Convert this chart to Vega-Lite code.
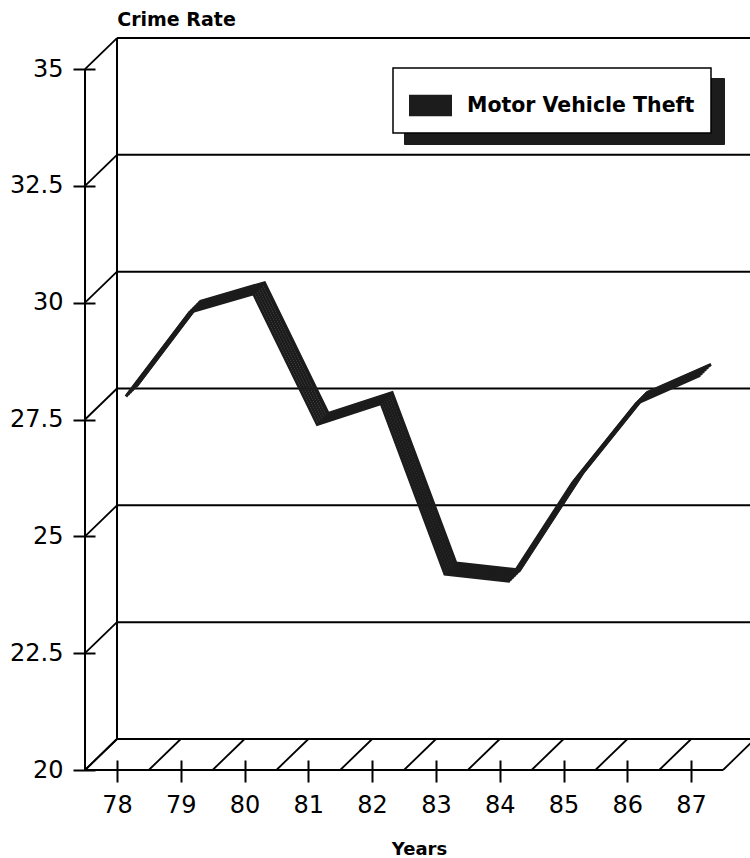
{
  "$schema": "https://vega.github.io/schema/vega-lite/v6.json",
  "width": 665,
  "height": 732,
  "autosize": {"type": "none"},
  "padding": {"left": 85, "top": 38, "right": 0, "bottom": 88},
  "background": "white",
  "config": {
    "view": {"stroke": null},
    "axis": {"grid": false, "domain": false, "tickColor": "black", "tickWidth": 2, "labelColor": "black", "titleColor": "black"}
  },
  "datasets": {
    "theft": [
      {"year": 78, "rate": 27.8},
      {"year": 79, "rate": 29.6},
      {"year": 80, "rate": 30.0},
      {"year": 81, "rate": 27.2},
      {"year": 82, "rate": 27.65},
      {"year": 83, "rate": 24.0},
      {"year": 84, "rate": 23.85},
      {"year": 85, "rate": 25.95},
      {"year": 86, "rate": 27.65},
      {"year": 87, "rate": 28.25}
    ],
    "levels": [
      {"level": 20}, {"level": 22.5}, {"level": 25}, {"level": 27.5},
      {"level": 30}, {"level": 32.5}, {"level": 35}
    ],
    "edges": [
      {"edge": 77.5}, {"edge": 78.5}, {"edge": 79.5}, {"edge": 80.5}, {"edge": 81.5},
      {"edge": 82.5}, {"edge": 83.5}, {"edge": 84.5}, {"edge": 85.5}, {"edge": 86.5}, {"edge": 87.5}
    ]
  },
  "layer": [
    {
      "data": {"name": "levels"},
      "mark": {"type": "rule", "color": "black", "strokeWidth": 2, "xOffset": 32, "x2Offset": 32, "yOffset": -31},
      "encoding": {
        "y": {"field": "level", "type": "quantitative",
          "scale": {"domain": [20, 35.664], "nice": false, "zero": false},
          "axis": {
            "orient": "left", "offset": -10, "tickSize": 22, "labelPadding": 10,
            "values": [20, 22.5, 25, 27.5, 30, 32.5, 35], "labelExpr": "toString(datum.value)",
            "labelFont": "DejaVu Sans", "labelFontSize": 24,
            "title": "Crime Rate", "titleAngle": 0, "titleFont": "DejaVu Sans", "titleFontSize": 19, "titleFontWeight": "bold",
            "titleX": 81, "titleY": -13, "titleAlign": "center", "titleBaseline": "alphabetic"
          }
        },
        "x": {"datum": 77.5, "type": "quantitative",
          "scale": {"domain": [77.5, 87.923], "nice": false, "zero": false},
          "axis": {
            "orient": "bottom", "offset": -10, "tickSize": 22, "labelPadding": 11,
            "values": [78, 79, 80, 81, 82, 83, 84, 85, 86, 87], "labelExpr": "toString(datum.value)",
            "labelFont": "DejaVu Sans", "labelFontSize": 24,
            "title": "Years", "titleFont": "DejaVu Sans", "titleFontSize": 18, "titleFontWeight": "bold",
            "titleX": 334, "titleY": 94, "titleAlign": "center", "titleBaseline": "alphabetic"
          }
        },
        "x2": {"datum": 87.923}
      }
    },
    {
      "data": {"name": "levels"},
      "mark": {"type": "rule", "color": "black", "strokeWidth": 1.8, "x2Offset": 32, "y2Offset": -31},
      "encoding": {
        "x": {"datum": 77.5, "type": "quantitative"},
        "x2": {"datum": 77.5},
        "y": {"field": "level", "type": "quantitative"},
        "y2": {"field": "level"}
      }
    },
    {
      "data": {"name": "edges"},
      "mark": {"type": "rule", "color": "black", "strokeWidth": 1.8, "x2Offset": 32, "y2Offset": -31},
      "encoding": {
        "x": {"field": "edge", "type": "quantitative"},
        "x2": {"field": "edge"},
        "y": {"datum": 20, "type": "quantitative"},
        "y2": {"datum": 20}
      }
    },
    {
      "data": {"values": [{}]},
      "mark": {"type": "rule", "color": "black", "strokeWidth": 2, "xOffset": 32, "x2Offset": 32, "yOffset": -31, "y2Offset": -31},
      "encoding": {
        "x": {"datum": 77.5, "type": "quantitative"},
        "x2": {"datum": 77.5},
        "y": {"datum": 20, "type": "quantitative"},
        "y2": {"datum": 35}
      }
    },
    {
      "data": {"values": [{}]},
      "mark": {"type": "rule", "color": "black", "strokeWidth": 2},
      "encoding": {
        "x": {"datum": 77.5, "type": "quantitative"},
        "x2": {"datum": 77.5},
        "y": {"datum": 20, "type": "quantitative"},
        "y2": {"datum": 35}
      }
    },
    {
      "data": {"values": [{}]},
      "mark": {"type": "rule", "color": "black", "strokeWidth": 2},
      "encoding": {
        "x": {"datum": 77.5, "type": "quantitative"},
        "x2": {"datum": 87.5},
        "y": {"datum": 20, "type": "quantitative"},
        "y2": {"datum": 20}
      }
    },
    {
      "data": {"name": "theft"},
      "mark": {"type": "point", "opacity": 0},
      "encoding": {
        "x": {"field": "year", "type": "quantitative"},
        "y": {"field": "rate", "type": "quantitative"},
        "shape": {"datum": "shadow", "type": "nominal",
          "scale": {"range": ["M-1,-0.5H1V0.5H-1Z"]},
          "legend": {
            "title": null, "orient": "none", "legendX": 319, "legendY": 40, "padding": 16,
            "fillColor": "#1c1c1c", "strokeColor": "#1c1c1c",
            "symbolType": "M-1,-0.5H1V0.5H-1Z", "symbolSize": 1849, "symbolOpacity": 0,
            "labelExpr": "'Motor Vehicle Theft'", "labelFont": "DejaVu Sans", "labelFontWeight": "bold",
            "labelFontSize": 20.5, "labelColor": "#1c1c1c", "labelOffset": 15, "labelLimit": 400, "zindex": 0
          }
        }
      }
    },
    {
      "data": {"name": "theft"},
      "encoding": {
        "x": {"field": "year", "type": "quantitative"},
        "y": {"field": "rate", "type": "quantitative"},
        "stroke": {"datum": "Motor Vehicle Theft", "type": "nominal",
          "scale": {"range": ["#1c1c1c"]},
          "legend": {
            "title": null, "orient": "none", "legendX": 308, "legendY": 30, "padding": 16,
            "fillColor": "white", "strokeColor": "black",
            "symbolType": "M-1,-0.5H1V0.5H-1Z", "symbolSize": 1849,
            "labelFont": "DejaVu Sans", "labelFontWeight": "bold",
            "labelFontSize": 20.5, "labelColor": "black", "labelOffset": 15, "labelLimit": 400, "zindex": 1,
            "encode": {
              "symbols": {"update": {"fill": {"value": "#1c1c1c"}, "stroke": {"value": "#1c1c1c"}, "strokeWidth": {"value": 0}, "opacity": {"value": 1}}},
              "legend": {"update": {"strokeWidth": {"value": 1.5}}}
            }
          }
        }
      },
      "layer": [
        {"mark": {"type": "line", "strokeWidth": 3, "strokeJoin": "miter", "xOffset": 9, "yOffset": -9}},
        {"mark": {"type": "line", "strokeWidth": 3, "strokeJoin": "miter", "xOffset": 11, "yOffset": -11}},
        {"mark": {"type": "line", "strokeWidth": 3, "strokeJoin": "miter", "xOffset": 13, "yOffset": -13}},
        {"mark": {"type": "line", "strokeWidth": 3, "strokeJoin": "miter", "xOffset": 15, "yOffset": -15}},
        {"mark": {"type": "line", "strokeWidth": 3, "strokeJoin": "miter", "xOffset": 17, "yOffset": -17}},
        {"mark": {"type": "line", "strokeWidth": 3, "strokeJoin": "miter", "xOffset": 19, "yOffset": -19}},
        {"mark": {"type": "line", "strokeWidth": 3, "strokeJoin": "miter", "xOffset": 20, "yOffset": -20}}
      ]
    }
  ]
}
